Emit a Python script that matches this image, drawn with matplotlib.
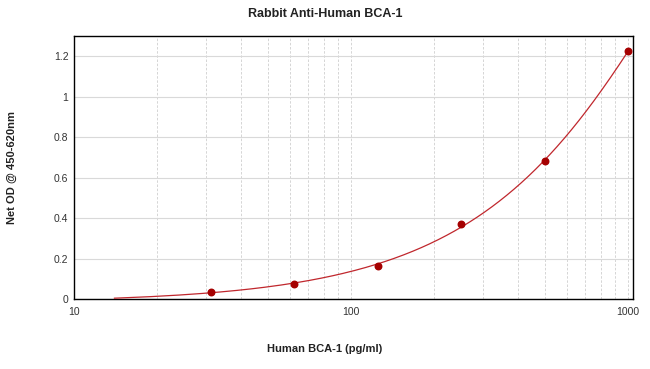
import numpy as np
import matplotlib.pyplot as plt
from matplotlib.ticker import FixedLocator, NullFormatter

# standard points
conc = [31.25, 62.5, 125, 250, 500, 1000]
od = [0.035, 0.075, 0.165, 0.37, 0.68, 1.225]

plt.rcParams['font.family'] = ['Liberation Sans', 'DejaVu Sans']

fig = plt.figure(figsize=(6.5, 3.69), dpi=100)
ax = fig.add_axes([0.1138, 0.1897, 0.8600, 0.7127])

# fitted curve (quadratic through the standards)
coef = np.polyfit(conc, od, 2)
xs = np.linspace(14, 1000, 400)
ax.plot(xs, np.polyval(coef, xs), color='#c0272d', lw=0.9, zorder=3)
ax.scatter(conc, od, s=22, color='#a50000', zorder=4)

ax.set_xscale('log')
ax.set_xlim(10, 1042)
ax.set_ylim(0, 1.3)
ax.set_yticks([0, 0.2, 0.4, 0.6, 0.8, 1, 1.2])
ax.set_yticklabels(['0', '0.2', '0.4', '0.6', '0.8', '1', '1.2'])
ax.set_xticks([10, 100, 1000])
ax.set_xticklabels(['10', '100', '1000'])
minors = [m * d for d in (10, 100) for m in range(2, 10)]
ax.xaxis.set_minor_locator(FixedLocator(minors))
ax.xaxis.set_minor_formatter(NullFormatter())

ax.grid(axis='y', color='#d9d9d9', lw=0.8, ls='-')
ax.grid(axis='x', which='both', color='#cfcfcf', lw=0.6, ls=(0, (3, 2)))
ax.set_axisbelow(True)
ax.tick_params(which='both', length=0, labelsize=7.5, colors='#333333', pad=4)
ax.tick_params(axis='x', pad=6)
for s in ax.spines.values():
    s.set_color('black')
    s.set_linewidth(1.0)

fig.text(0.5, 0.962, 'Rabbit Anti-Human BCA-1', ha='center', va='center',
         fontsize=9, fontweight='bold', color='#222222')
fig.text(0.5, 0.054, 'Human BCA-1 (pg/ml)', ha='center', va='center',
         fontsize=8, fontweight='bold', color='#222222')
fig.text(0.018, 0.545, 'Net OD @ 450-620nm', ha='center', va='center',
         rotation=90, fontsize=8, fontweight='bold', color='#222222')

fig.savefig('out.png', dpi=100)
